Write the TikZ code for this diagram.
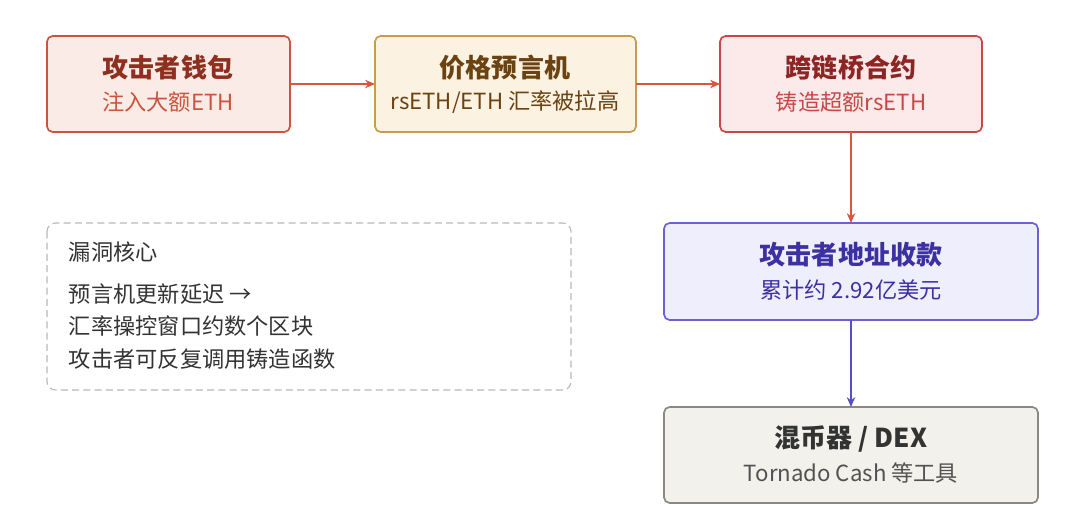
\documentclass[tikz,border=0pt]{standalone}
\usepackage{fontspec}
\setmainfont{Noto Sans CJK SC}
\usetikzlibrary{arrows.meta}
\definecolor{rb}{HTML}{C9553F}\definecolor{rf}{HTML}{FBEBE6}\definecolor{rt}{HTML}{8E2F1F}
\definecolor{ob}{HTML}{C99B4F}\definecolor{of}{HTML}{FCF2E2}\definecolor{ot}{HTML}{6B4312}
\definecolor{pb}{HTML}{C84848}\definecolor{pf}{HTML}{FCE9E9}\definecolor{pt}{HTML}{8E2525}
\definecolor{vb}{HTML}{6C60D2}\definecolor{vf}{HTML}{EFEEFC}\definecolor{vt}{HTML}{3D30A2}
\definecolor{gb}{HTML}{8A8880}\definecolor{gf}{HTML}{F2F1EC}\definecolor{gt}{HTML}{333333}
\definecolor{ar}{HTML}{D9553F}\definecolor{av}{HTML}{5A4FC0}
\begin{document}
\begin{tikzpicture}[x=0.025cm,y=-0.025cm,
 box/.style={draw,line width=1.2pt,rounded corners=4pt},
 ttl/.style={font=\fontsize{18.5}{22}\selectfont\bfseries},
 sub/.style={font=\fontsize{15.8}{19}\selectfont},
 arr/.style={-{Stealth[length=7pt,width=6pt]},line width=1pt}]
\fill[white] (0,0) rectangle (1080,528);
\useasboundingbox (0,0) rectangle (1080,528);
\draw[box,draw=rb,fill=rf] (47,36) rectangle (290,132);
\node[ttl,text=rt] (t1) at (168,68) {攻击者钱包};
\node[sub,text=rb] (s1) at (168,102) {注入大额ETH};
\draw[box,draw=ob,fill=of] (375,36) rectangle (636,132);
\node[ttl,text=ot] (t2) at (505,68) {价格预言机};
\node[sub,text=ot] (s2) at (505,102) {rsETH/ETH 汇率被拉高};
\draw[box,draw=pb,fill=pf] (720,36) rectangle (982,132);
\node[ttl,text=pt] (t3) at (851,68) {跨链桥合约};
\node[sub,text=pb] (s3) at (851,102) {铸造超额rsETH};
\draw[box,draw=vb,fill=vf] (664,223) rectangle (1038,320);
\node[ttl,text=vt] (t4) at (851,255) {攻击者地址收款};
\node[sub,text=vt] (s4) at (851,290) {累计约 2.92亿美元};
\draw[box,draw=gb,fill=gf] (664,407) rectangle (1038,503);
\node[ttl,text=gt] (t5) at (851,439) {混币器 / DEX};
\node[sub,text=gt!85] (s5) at (851,473) {Tornado Cash 等工具};
\draw[dashed,draw=gray!55,line width=0.8pt,rounded corners=6pt,dash pattern=on 5pt off 3pt] (47,223) rectangle (571,390);
\begin{scope}[every node/.style={sub,text=gt,anchor=west}]
\node (n1) at (64,252) {漏洞核心};
\node (n2) at (64,294) {预言机更新延迟 →};
\node (n3) at (64,326) {汇率操控窗口约数个区块};
\node (n4) at (64,359) {攻击者可反复调用铸造函数};
\end{scope}
\coordinate (a1) at (290,84); \coordinate (b1) at (375,84);
\coordinate (a2) at (636,84); \coordinate (b2) at (720,84);
\coordinate (a3) at (851,132); \coordinate (b3) at (851,223);
\coordinate (a4) at (851,320); \coordinate (b4) at (851,407);
\draw[arr,draw=ar] (a1) -- (b1);
\draw[arr,draw=ar] (a2) -- (b2);
\draw[arr,draw=ar] (a3) -- (b3);
\draw[arr,draw=av] (a4) -- (b4);
\end{tikzpicture}
\end{document}
